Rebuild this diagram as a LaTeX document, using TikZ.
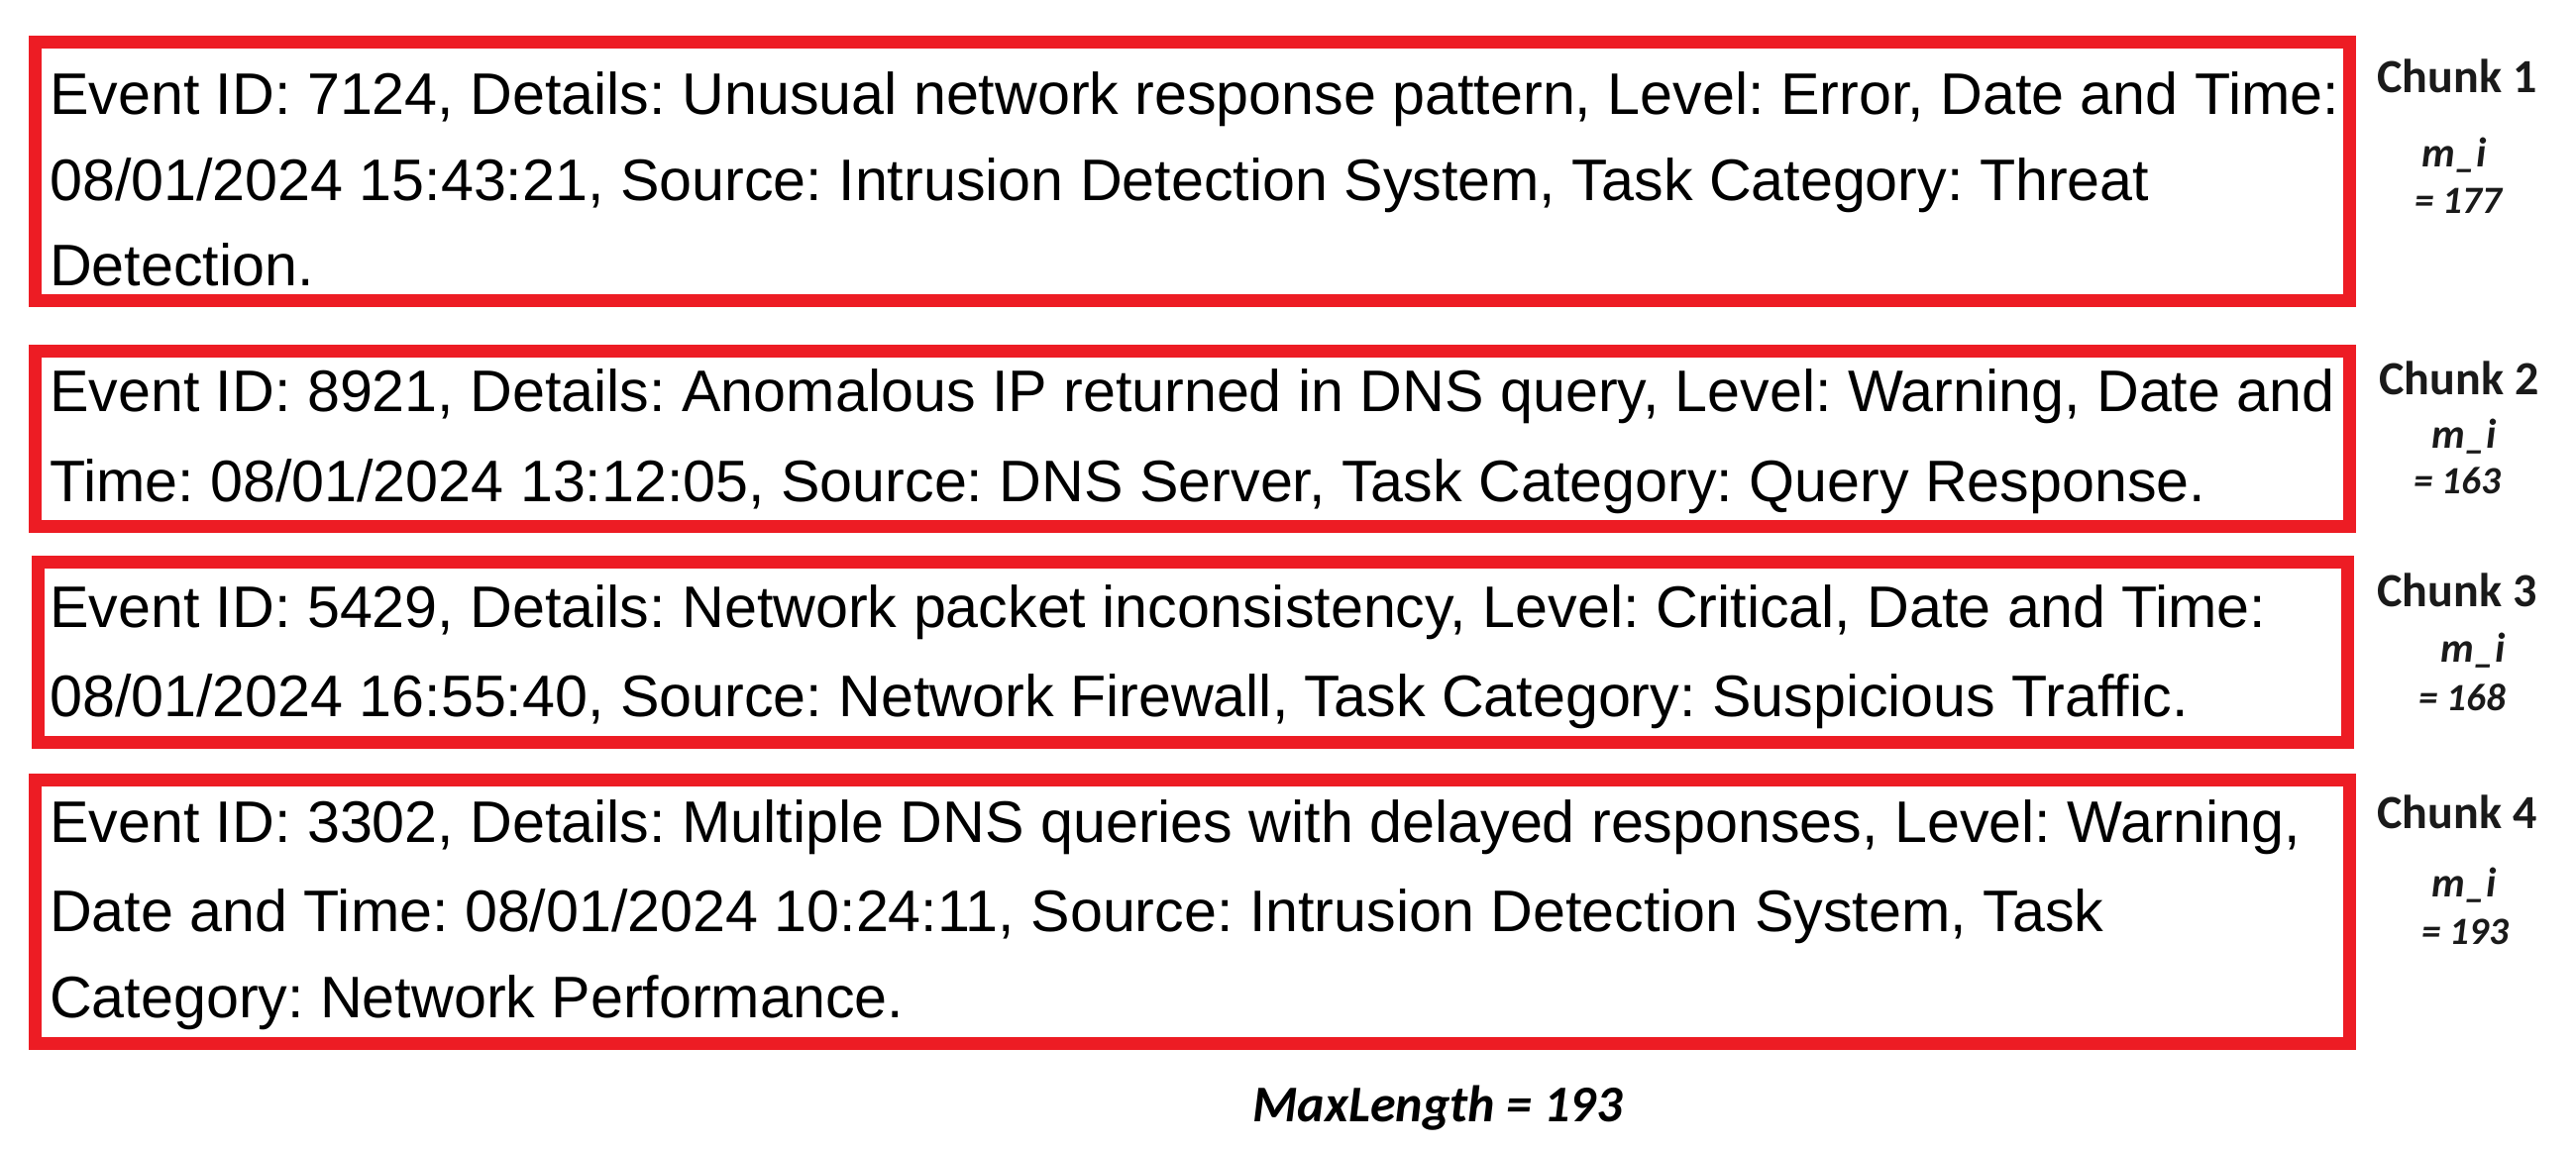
\documentclass[tikz,border=0pt]{standalone}
\usepackage{fontspec}
\setmainfont{Liberation Sans}
\newfontfamily\labelfont{Carlito}
\definecolor{boxred}{HTML}{ED1C24}
\definecolor{labelink}{HTML}{1A1A1A}
\frenchspacing
\begin{document}
\begin{tikzpicture}[x=1pt,y=-1pt,
  chunkframe/.style={draw=boxred,line width=13pt},
  logline/.style={anchor=base west,inner sep=0pt,font=\frenchspacing\fontsize{59.2}{70}\selectfont,text=black},
  chunkname/.style={anchor=base,inner sep=0pt,font=\labelfont\bfseries\fontsize{48}{56}\selectfont,text=labelink},
  miname/.style={anchor=base,inner sep=0pt,font=\labelfont\bfseries\itshape\fontsize{42}{48}\selectfont,text=labelink},
  mival/.style={anchor=base,inner sep=0pt,font=\labelfont\bfseries\itshape\fontsize{39}{46}\selectfont,text=labelink},
  maxlen/.style={anchor=base,inner sep=0pt,font=\labelfont\bfseries\itshape\fontsize{52}{60}\selectfont,text=black}]
\useasboundingbox (0,0) rectangle (2600,1160);
\fill[white] (0,0) rectangle (2600,1160);

% frames
\draw[chunkframe] (35.5,42.5) rectangle (2371.5,303.5);
\draw[chunkframe] (35.5,354.5) rectangle (2371.5,531.5);
\draw[chunkframe] (38.5,567.5) rectangle (2369.5,749.5);
\draw[chunkframe] (35.5,787.5) rectangle (2371.5,1053.5);

% chunk 1 text
\node[logline] (c1a) at (50,115) {Event ID: 7124, Details: Unusual network response pattern, Level: Error, Date and Time:};
\node[logline] (c1b) at (50,202) {08/01/2024 15:43:21, Source: Intrusion Detection System, Task Category: Threat};
\node[logline] (c1c) at (50,288) {Detection.};

% chunk 2 text
\node[logline] (c2a) at (50,415) {Event ID: 8921, Details: Anomalous IP returned in DNS query, Level: Warning, Date and};
\node[logline] (c2b) at (50,506) {Time: 08/01/2024 13:12:05, Source: DNS Server, Task Category: Query Response.};

% chunk 3 text
\node[logline] (c3a) at (50,633) {Event ID: 5429, Details: Network packet inconsistency, Level: Critical, Date and Time:};
\node[logline] (c3b) at (50,723) {08/01/2024 16:55:40, Source: Network Firewall, Task Category: Suspicious Traffic.};

% chunk 4 text
\node[logline] (c4a) at (50,850) {Event ID: 3302, Details: Multiple DNS queries with delayed responses, Level: Warning,};
\node[logline] (c4b) at (50,940) {Date and Time: 08/01/2024 10:24:11, Source: Intrusion Detection System, Task};
\node[logline] (c4c) at (50,1027) {Category: Network Performance.};

% labels
\node[chunkname] (k1) at (2480,93) {Chunk 1};
\node[miname] (m1) at (2477,168) {m\_i};
\node[mival] (v1) at (2481,215) {= 177};

\node[chunkname] (k2) at (2482,398) {Chunk 2};
\node[miname] (m2) at (2487,452) {m\_i};
\node[mival] (v2) at (2480,498) {= 163};

\node[chunkname] (k3) at (2480,612) {Chunk 3};
\node[miname] (m3) at (2496,668) {m\_i};
\node[mival] (v3) at (2485,717) {= 168};

\node[chunkname] (k4) at (2480,836) {Chunk 4};
\node[miname] (m4) at (2487,905) {m\_i};
\node[mival] (v4) at (2488,953) {= 193};

\node[maxlen] (ml) at (1451,1132) {MaxLength = 193};
\end{tikzpicture}
\end{document}
